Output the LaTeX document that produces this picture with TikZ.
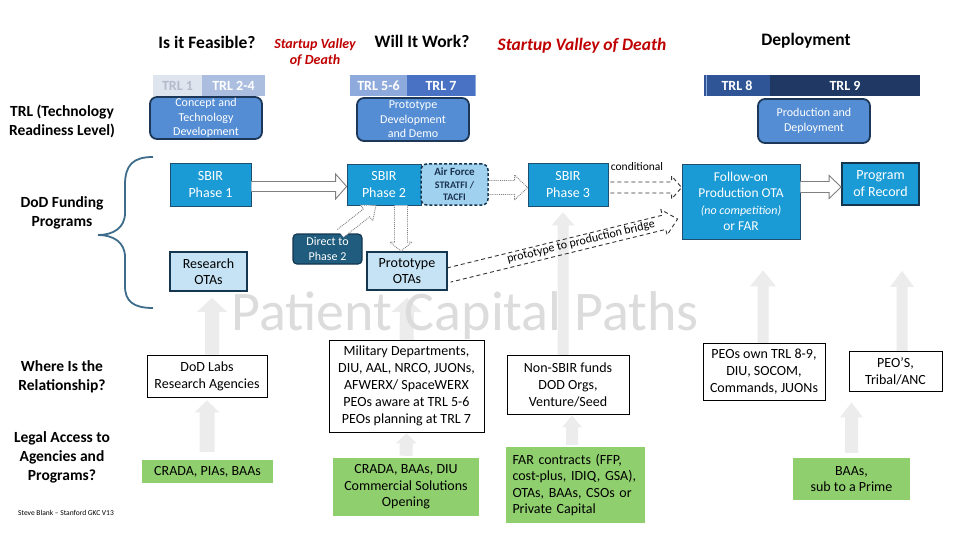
\documentclass[tikz,border=0pt]{standalone}
\usepackage{fontspec}
\setmainfont{Carlito}
\usetikzlibrary{calc,arrows.meta}
\pgfdeclarelayer{back}
\pgfdeclarelayer{mid}
\pgfsetlayers{back,mid,main}

\definecolor{sbirblue}{HTML}{1B9BD6}
\definecolor{sbirline}{HTML}{1F4E6E}
\definecolor{navyline}{HTML}{1C3757}
\definecolor{trlboxcol}{HTML}{548DD4}
\definecolor{afblue}{HTML}{A0D2F0}
\definecolor{aftext}{HTML}{1B3350}
\definecolor{otablue}{HTML}{C5E3F5}
\definecolor{otaline}{HTML}{14374F}
\definecolor{directfill}{HTML}{1F5C7E}
\definecolor{gboxcol}{HTML}{8FCF6E}
\definecolor{wmarrow}{HTML}{ECECEC}
\definecolor{wmtext}{HTML}{DCDCDC}
\definecolor{vdred}{HTML}{C00000}
\definecolor{bracecol}{HTML}{3D6D8A}
\definecolor{trla}{HTML}{DFE5EF}
\definecolor{trlatext}{HTML}{B4BCCB}
\definecolor{trlb}{HTML}{ABBEE0}
\definecolor{trlc}{HTML}{8EAADC}
\definecolor{trld}{HTML}{4A72C4}
\definecolor{trle}{HTML}{2F5597}
\definecolor{trlf}{HTML}{1F3864}
\definecolor{hollowline}{HTML}{7F7F7F}
\definecolor{dashcol}{HTML}{333333}

\newcommand\fs[2]{\fontsize{#1}{#2}\selectfont}
% #1 style, #2 from, #3 to, #4 shaft half width, #5 head half width, #6 head length
\newcommand\blockarrow[6]{%
  \coordinate (ba-s) at #2;
  \coordinate (ba-e) at #3;
  \coordinate (ba-h) at ($(ba-e)!#6pt!(ba-s)$);
  \path[#1] ($(ba-s)!#4pt!90:(ba-e)$) -- ($(ba-h)!#4pt!-90:(ba-s)$) -- ($(ba-h)!#5pt!-90:(ba-s)$) -- (ba-e) -- ($(ba-h)!#5pt!90:(ba-s)$) -- ($(ba-h)!#4pt!90:(ba-s)$) -- ($(ba-s)!#4pt!-90:(ba-e)$);}

\tikzset{
  every node/.style={inner sep=0pt, align=center},
  hdr/.style={font=\bfseries\fs{17.5}{20}},
  side/.style={font=\bfseries\fs{15.5}{19}},
  vod/.style={font=\bfseries\itshape\fs{17.5}{20}, text=vdred},
  trlbar/.style={minimum height=21pt, font=\bfseries\fs{14}{16}, text=white},
  trlround/.style={fill=trlboxcol, draw=navyline, line width=1.8pt, rounded corners=7pt, text=white, font=\fs{12}{14.5}},
  sbirbox/.style={fill=sbirblue, draw=sbirline, line width=0.8pt, text=white, font=\fs{14}{17}},
  otabox/.style={fill=otablue, draw=otaline, line width=1.8pt, font=\fs{14}{16}},
  relbox/.style={fill=white, draw=black, line width=0.9pt, font=\fs{14}{17}},
  gbox/.style={fill=gboxcol, font=\fs{14}{16.5}},
  hollow/.style={fill=white, draw=hollowline, line width=0.9pt},
  dotarrow/.style={fill=white, draw=hollowline, line width=0.9pt, densely dotted},
  dasharrow/.style={draw=dashcol, line width=0.9pt, dash pattern=on 4pt off 3pt},
  wm/.style={fill=wmarrow},
}

\begin{document}
\begin{tikzpicture}[x=1pt,y=-1pt]
\begin{pgfonlayer}{back}
\fill[white] (0,0) rectangle (960,540);
\end{pgfonlayer}
\useasboundingbox (0,0) rectangle (960,540);

% headers
\node[hdr] (feas) at (207,42) {Is it Feasible?};
\node[font=\bfseries\itshape\fs{14}{16}, text=vdred] (vod1) at (315,52) {Startup Valley\\of Death};
\node[hdr] (will) at (422,41) {Will It Work?};
\node[vod] (vod2) at (582,46) {Startup Valley of Death};
\node[hdr] (deploy) at (806,41) {Deployment};

% side labels
\node[side] (trllab) at (62,121) {TRL (Technology\\Readiness Level)};
\node[side] (doflab) at (62,213) {DoD Funding\\Programs};
\node[side] (rellab) at (62,377) {Where Is the\\Relationship?};
\node[side] (leglab) at (62,457) {Legal Access to\\Agencies and\\Programs?};
\node[font=\fs{7.5}{9}] (credit) at (66,513) {Steve Blank – Stanford GKC V13};

% brace
\draw[bracecol, line width=1.8pt] (153,157) .. controls (133,157) and (125,165) .. (125,185) -- (125,213) .. controls (125,228) and (113,235) .. (98,235) .. controls (113,235) and (125,242) .. (125,257) -- (125,286) .. controls (125,301) and (133,308) .. (153,308);

% TRL bars
\node[trlbar, fill=trla, text=trlatext, minimum width=49pt] (trl1) at (177.5,85.5) {TRL 1};
\node[trlbar, fill=trlb, minimum width=63pt] (trl24) at (233.5,85.5) {TRL 2-4};
\node[trlbar, fill=trlc, minimum width=57pt] (trl56) at (378.5,85.5) {TRL 5-6};
\node[trlbar, fill=trld, minimum width=68pt] (trl7) at (441,85.5) {TRL 7};
\node[trlbar, fill=trle, minimum width=66pt] (trl8) at (737,85.5) {TRL 8};
\node[trlbar, fill=trlf, minimum width=150pt] (trl9) at (845,85.5) {TRL 9};
\draw[trlc, line width=1.2pt] (trl7.north east) -- (trl7.south east);
\draw[trlc, line width=1pt] ($(trl8.north west)+(3,0)$) -- ($(trl8.south west)+(3,0)$);

% TRL rounded boxes
\node[trlround, minimum width=112pt, minimum height=42pt] (concept) at (206,118) {Concept and\\Technology\\Development};
\node[trlround, minimum width=112pt, minimum height=43pt] (protodev) at (413,119.5) {Prototype\\Development\\and Demo};
\node[trlround, minimum width=112pt, minimum height=44pt] (proddep) at (814,121) {Production and\\Deployment};

% funding programs
\node[sbirbox, minimum width=81pt, minimum height=43pt] (sbir1) at (210.5,184.5) {SBIR\\Phase 1};
\node[sbirbox, minimum width=74pt, minimum height=41pt] (sbir2) at (384,184.5) {SBIR\\Phase 2};
\node[fill=afblue, draw=otaline, line width=1.5pt, dash pattern=on 3pt off 2pt, rounded corners=6pt, text=aftext, minimum width=67pt, minimum height=41pt, font=\bfseries\fs{10}{12.5}] (airf) at (454.5,184.5) {{\fs{11}{12.5}Air Force}\\STRATFI /\\TACFI};
\node[sbirbox, minimum width=80pt, minimum height=43pt] (sbir3) at (568,184.5) {SBIR\\Phase 3};
\node[sbirbox, minimum width=118pt, minimum height=75pt, font=\fs{13.5}{16.5}] (follow) at (741,201.5) {Follow-on\\Production OTA\\{\fs{12}{16.5}\itshape (no competition)}\\or FAR};
\node[sbirbox, draw=otaline, line width=1.8pt, minimum width=77pt, minimum height=42pt] (por) at (880.5,184) {Program\\of Record};
\node[fill=directfill, draw=otaline, line width=1.2pt, rounded corners=4pt, text=white, font=\fs{12}{15}, minimum width=69pt, minimum height=30pt] (direct) at (327.5,249) {Direct to\\Phase 2};
\node[otabox, minimum width=80pt, minimum height=38pt] (protoota) at (407,271) {Prototype\\OTAs};
\node[otabox, minimum width=77pt, minimum height=39pt] (resota) at (208.5,271.5) {Research\\OTAs};

% relationship boxes
\node[relbox, minimum width=120pt, minimum height=42pt] (dodlabs) at (207,376) {DoD Labs\\Research Agencies};
\node[relbox, minimum width=155pt, minimum height=92pt] (milit) at (406.5,386) {Military Departments,\\DIU, AAL, NRCO, JUONs,\\AFWERX/ SpaceWERX\\PEOs aware at TRL 5-6\\PEOs planning at TRL 7};
\node[relbox, minimum width=122pt, minimum height=59pt] (nonsbir) at (568,384.5) {Non-SBIR funds\\DOD Orgs,\\Venture/Seed};
\node[relbox, minimum width=122pt, minimum height=57pt] (peosown) at (764,371.5) {PEOs own TRL 8-9,\\DIU, SOCOM,\\Commands, JUONs};
\node[relbox, minimum width=93pt, minimum height=40pt] (peos) at (895.5,371) {PEO’S,\\Tribal/ANC};

% legal access boxes
\node[gbox, minimum width=131pt, minimum height=23pt] (crada1) at (207.5,471.5) {CRADA, PIAs, BAAs};
\node[gbox, minimum width=146pt, minimum height=58pt] (crada2) at (406,487) {CRADA, BAAs, DIU\\Commercial Solutions\\Opening};
\node[gbox, minimum width=139pt, minimum height=76pt, align=left, text width=126pt] (far) at (575.5,485) {FAR contracts (FFP,\\cost-plus, IDIQ, GSA),\\OTAs, BAAs, CSOs or\\Private Capital};
\node[gbox, minimum width=117pt, minimum height=42pt] (baas) at (851.5,479) {BAAs,\\sub to a Prime};

% watermark arrows and text
\begin{pgfonlayer}{mid}
\blockarrow{wm}{($(dodlabs.north)+(5,0)$)}{($(resota.south)+(3.5,6)$)}{7}{15}{14}
\blockarrow{wm}{($(dodlabs.south|-crada1.north)+(0,-8)$)}{($(dodlabs.south)+(0,3)$)}{7.5}{12.5}{12}
\blockarrow{wm}{($(milit.north)+(0,10)$)}{($(protoota.south)+(0,7)$)}{7}{15}{14}
\blockarrow{wm}{($(crada2.north)+(0,-2)$)}{($(milit.south)+(0,1)$)}{6.5}{10.5}{10}
\blockarrow{wm}{($(nonsbir.north)+(-5,5)$)}{($(sbir3.south)+(-5,6)$)}{5.5}{11.5}{13}
\blockarrow{wm}{($(far.north)+(-3.5,-2)$)}{($(nonsbir.south)+(4,1)$)}{6}{10}{12}
\blockarrow{wm}{($(peosown.north)+(-1,5)$)}{($(follow.south)+(22,31)$)}{5.5}{13}{16}
\blockarrow{wm}{($(peos.north)+(6.5,5)$)}{($(por.south)+(21.5,65)$)}{5.5}{12}{16}
\blockarrow{wm}{($(baas.north)+(0,-5)$)}{($(baas.north|-peos.south)+(0,11)$)}{6.5}{11.5}{15}
\node[font=\fs{56}{60}, text=wmtext, anchor=base] (wmark) at (465,330) {Patient Capital Paths};
\end{pgfonlayer}

% connectors
\blockarrow{hollow}{($(sbir1.east)+(0,2)$)}{($(sbir2.west)+(0,2)$)}{5}{12.5}{11}
\blockarrow{dotarrow}{($(airf.east)+(0,3)$)}{($(sbir3.west)+(0,3)$)}{7}{12.5}{13}
\blockarrow{hollow}{($(follow.east|-por.west)+(0,3)$)}{($(por.west)+(0,3)$)}{5.5}{11.5}{12}
\blockarrow{dotarrow}{($(sbir2.south)+(17,0)$)}{($(protoota.north)+(-6,0)$)}{6.5}{11}{9}
\blockarrow{dotarrow}{($(direct.north)+(13,0)$)}{($(sbir2.south)+(-8,0)$)}{5}{10}{12}
\blockarrow{dasharrow}{($(sbir3.east)+(2,3)$)}{($(follow.west)+(0,-14)$)}{5.5}{11.5}{10}
\blockarrow{dasharrow}{($(protoota.east)+(1,4)$)}{($(follow.west)+(-4,17.5)$)}{7.3}{13}{14}
\node[font=\fs{11.5}{13}] (cond) at (637,167) {conditional};
\node[font=\fs{12}{14}, rotate=13.6] (bridge) at (581,242) {prototype to production bridge};
\end{tikzpicture}
\end{document}
